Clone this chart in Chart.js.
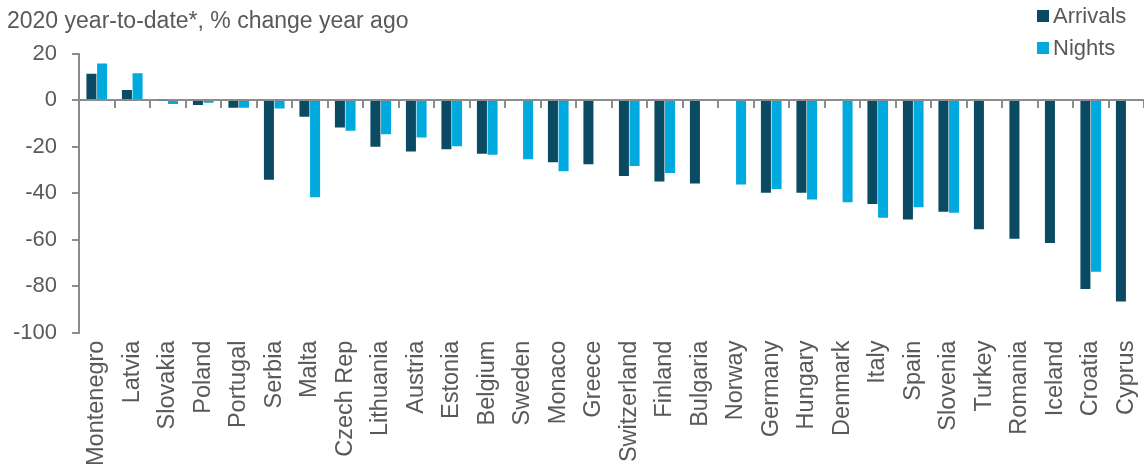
<!DOCTYPE html>
<html>
<head>
<meta charset="utf-8">
<script src="https://cdn.jsdelivr.net/npm/chart.js@4/dist/chart.umd.min.js"></script>
<style>
    html, body { margin: 0; padding: 0; background: #fff; }
    #wrap { position: relative; width: 1144px; height: 468px; }
    #legend { position: absolute; left: 1037px; top: 0px; font: 22px "Liberation Sans", Arial, sans-serif; color: #595959; }
    #legend div { height: 32px; display: flex; align-items: center; }
    #legend span.box { width: 12px; height: 12px; margin-right: 4px; display: inline-block; }
</style>
</head>
<body>
<div id="wrap">
    <canvas id="chart" width="1144" height="468"></canvas>
    <div id="legend"></div>
</div>
<script>
const TITLE = '2020 year-to-date*, % change year ago';

const countries = [
    'Montenegro', 'Latvia', 'Slovakia', 'Poland', 'Portugal', 'Serbia', 'Malta', 'Czech Rep',
    'Lithuania', 'Austria', 'Estonia', 'Belgium', 'Sweden', 'Monaco', 'Greece', 'Switzerland',
    'Finland', 'Bulgaria', 'Norway', 'Germany', 'Hungary', 'Denmark', 'Italy', 'Spain',
    'Slovenia', 'Turkey', 'Romania', 'Iceland', 'Croatia', 'Cyprus'
];

const arrivals = [
    11.3, 4.3, -0.3, -2.1, -3.3, -34.3, -7.2, -11.8,
    -20.1, -22.1, -21.1, -23.1, null, -26.7, -27.6, -32.7,
    -35.0, -35.9, null, -39.8, -39.9, null, -44.7, -51.4,
    -48.0, -55.6, -59.6, -61.5, -81.2, -86.6
];

const nights = [
    15.7, 11.5, -1.7, -1.1, -3.3, -3.6, -41.8, -13.2,
    -14.7, -16.1, -19.8, -23.5, -25.4, -30.6, null, -28.3,
    -31.4, null, -36.3, -38.2, -42.8, -43.9, -50.6, -46.1,
    -48.5, null, null, null, -73.8, null
];

const yTicks = { min: -100, max: 20, step: 20 };

const COLOR_ARRIVALS = '#0a4a63';
const COLOR_NIGHTS = '#00a9de';
const TEXT = '#595959';
const AXIS = '#8c8c8c';
const FONT = '"Liberation Sans", Arial, sans-serif';

const series = [
    { label: 'Arrivals', data: arrivals, color: COLOR_ARRIVALS },
    { label: 'Nights', data: nights, color: COLOR_NIGHTS }
];

document.getElementById('legend').innerHTML = series
    .map((s) => `<div><span class="box" style="background:${s.color}"></span>${s.label}</div>`)
    .join('');

new Chart(document.getElementById('chart'), {
    type: 'bar',
    data: {
        labels: countries,
        datasets: series.map((s) => ({
            label: s.label,
            data: s.data,
            backgroundColor: s.color,
            borderWidth: 0,
            categoryPercentage: 0.6,
            barPercentage: 0.94
        }))
    },
    options: {
        responsive: false,
        animation: false,
        events: [],
        layout: { padding: { top: 0, right: 0, left: 7, bottom: -6 } },
        plugins: {
            legend: { display: false },
            tooltip: { enabled: false },
            title: {
                display: true,
                text: TITLE,
                align: 'start',
                color: TEXT,
                font: { family: FONT, size: 23, weight: 'normal' },
                padding: { top: 8, bottom: 18 }
            }
        },
        scales: {
            x: {
                type: 'category',
                offset: true,
                grid: { display: false, drawTicks: false },
                border: { display: false },
                // last rotated label fits inside its own slot, no extra room needed
                afterFit: (scale) => { scale.paddingRight = 0; },
                ticks: {
                    autoSkip: false,
                    minRotation: 90,
                    maxRotation: 90,
                    padding: 8,
                    color: TEXT,
                    font: { family: FONT, size: 23.5 }
                }
            },
            xZero: {
                type: 'category',
                axis: 'x',
                position: { y: 0 },
                offset: true,
                grid: {
                    offset: true,
                    drawOnChartArea: false,
                    drawTicks: true,
                    tickLength: 7,
                    color: AXIS,
                    lineWidth: 2
                },
                border: { display: true, color: AXIS, width: 2 },
                ticks: { display: false }
            },
            y: {
                min: yTicks.min,
                max: yTicks.max,
                afterFit: (scale) => { scale.width = 72; },
                grid: {
                    drawOnChartArea: false,
                    drawTicks: true,
                    tickLength: 7,
                    color: AXIS,
                    lineWidth: 2
                },
                border: { display: true, color: AXIS, width: 2 },
                ticks: {
                    stepSize: yTicks.step,
                    padding: 15,
                    color: TEXT,
                    font: { family: FONT, size: 22 }
                }
            }
        }
    }
});
</script>
</body>
</html>
